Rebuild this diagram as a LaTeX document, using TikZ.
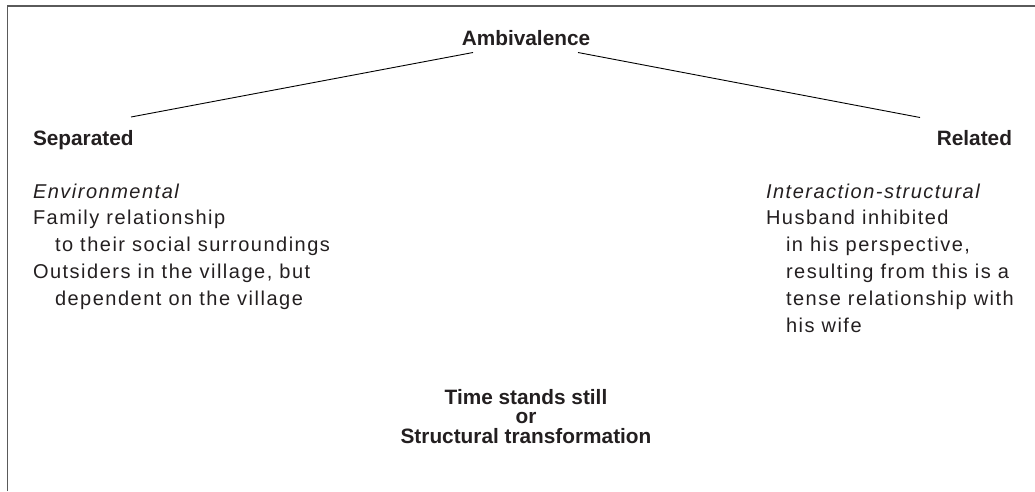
\documentclass[tikz,border=0pt]{standalone}
\usepackage{fontspec}
\setmainfont{Liberation Sans}
\newfontfamily\regfont[LetterSpace=7.5]{Liberation Sans}
\definecolor{ink}{HTML}{231F20}
\definecolor{framegray}{HTML}{5A5A5A}
\begin{document}
\begin{tikzpicture}[x=1pt,y=-1pt,
  every node/.style={inner sep=0pt, outer sep=0pt, text=ink},
  head/.style={font=\fontsize{20.8}{19.2}\selectfont\bfseries},
  body/.style={font=\regfont\fontsize{20}{26.8}\selectfont, align=left},
  link/.style={draw=black, line width=0.9pt},
  frame/.style={draw=framegray, line width=1.5pt}]
\useasboundingbox (0,0) rectangle (1035,491);
\draw[frame] (7.5,491) -- (7.5,5.8) -- (1035,5.8);
\node[head, anchor=base] (amb) at (526,45) {Ambivalence};
\node[head, anchor=base west] (sep) at (33,145) {Separated};
\node[head, anchor=base east] (rel) at (1012,145) {Related};
\coordinate (ambL) at (473,52.5);
\coordinate (ambR) at (578,52.5);
\coordinate (sepT) at (131,117);
\coordinate (relT) at (920,117.5);
\draw[link] (ambL) -- (sepT);
\draw[link] (ambR) -- (relT);
\node[body, anchor=base west] (left) at (33,305.2) {\itshape Environmental\\
Family relationship\\
\hspace*{22pt}to their social surroundings\\
Outsiders in the village, but\\
\hspace*{22pt}dependent on the village};
\node[body, anchor=base west] (right) at (766,332) {\itshape Interaction-structural\\
Husband inhibited\\
\hspace*{20pt}in his perspective,\\
\hspace*{20pt}resulting from this is a\\
\hspace*{20pt}tense relationship with\\
\hspace*{20pt}his wife};
\node[head, align=center, anchor=base] (bottom) at (526,443) {Time stands still\\ or\\ Structural transformation};
\end{tikzpicture}
\end{document}
